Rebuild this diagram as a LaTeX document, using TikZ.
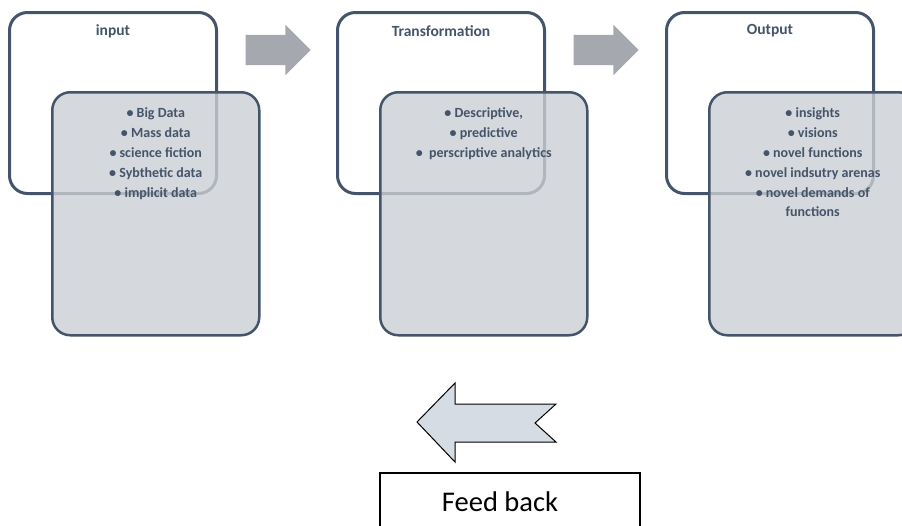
\documentclass[tikz,border=0pt]{standalone}
\usepackage{fontspec}
\setmainfont{Carlito}
\usetikzlibrary{shapes.arrows}
\definecolor{slate}{HTML}{44546A}
\definecolor{listgray}{HTML}{CBCED3}
\definecolor{stepgray}{HTML}{A5A8AE}
\definecolor{backblue}{HTML}{D6DCE4}
\begin{document}
\begin{tikzpicture}[x=1pt,y=-1pt,
    framebox/.style={draw=slate,line width=3pt,rounded corners=18pt,
        minimum width=207pt,minimum height=181pt,inner sep=0pt},
    listbox/.style={draw=slate,line width=2.5pt,rounded corners=18pt,
        fill=listgray,fill opacity=0.8,
        minimum width=207pt,minimum height=243pt,inner sep=0pt},
    title/.style={text=slate,font=\bfseries\fontsize{15.5}{18}\selectfont},
    items/.style={text=slate,align=center,inner sep=0pt,
        font=\bfseries\fontsize{14}{20.2}\selectfont},
    steparrow/.style={single arrow,fill=stepgray,inner xsep=0pt,inner ysep=15pt,
        minimum height=65pt,single arrow head extend=10pt,
        single arrow tip angle=90}]
\useasboundingbox (0,0) rectangle (902,525);
% three stages
\foreach \x/\ttl [count=\i] in {8/input,336/Transformation,665/Output}{
    \node[framebox,anchor=north west] (w\i) at (\x,11) {};
    \node[title] (t\i) at ([yshift=-20pt]w\i.north) {\ttl};
    \node[listbox,anchor=north west] (g\i)
        at ([xshift=43pt,yshift=-80pt]w\i.north west) {};
}
\node[items,anchor=north] (l1) at ([yshift=-16pt]g1.north)
    {• Big Data\\• Mass data\\• science fiction\\• Sybthetic data\\• implicit data};
\node[items,anchor=north] (l2) at ([yshift=-16pt]g2.north)
    {• Descriptive,\\• predictive\\•\ \ perscriptive analytics};
\node[items,anchor=north] (l3) at ([yshift=-16pt]g3.north)
    {• insights\\• visions\\• novel functions\\• novel indsutry arenas\\• novel demands of\\[-2pt] functions};
\node[steparrow] (a1) at (270.5,50) {};
\node[steparrow] (a2) at (598.5,50) {};
% feed back
\draw[fill=backblue,line width=1pt,line join=miter]
    (417,422) -- (455,383) -- (455,404) -- (556,404) -- (535,423)
    -- (556,442) -- (455,442) -- (455,462) -- cycle;
\node[draw,line width=1.2pt,minimum width=260pt,minimum height=60pt] (fb) at (510,503) {};
\node[font=\fontsize{28.5}{32}\selectfont] (fbt) at (500,502) {Feed back};
\end{tikzpicture}
\end{document}
